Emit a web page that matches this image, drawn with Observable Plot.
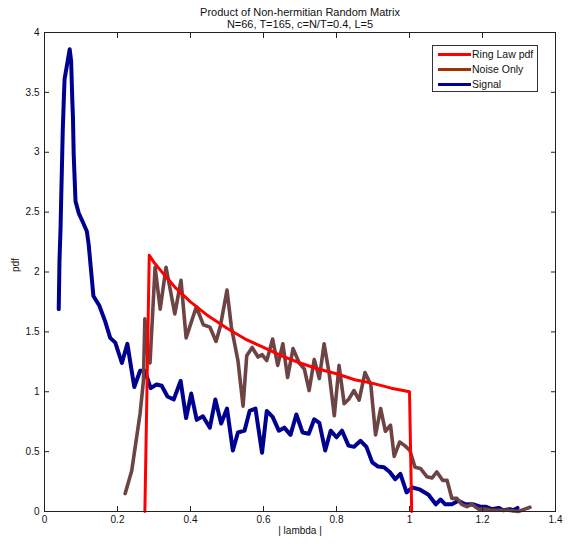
<!DOCTYPE html>
<html>
<head>
<meta charset="utf-8">
<script src="https://cdn.jsdelivr.net/npm/d3@7"></script>
<script src="https://cdn.jsdelivr.net/npm/@observablehq/plot@0.6"></script>
<style>
  html, body { margin: 0; padding: 0; background: #fff; }
  #wrap { position: relative; width: 574px; height: 544px; font-family: "Liberation Sans", Arial, sans-serif; }
  #legend { position: absolute; left: 432px; top: 45px; width: 106px; height: 47px; background: #fff; border: 1px solid #333; box-sizing: border-box; font-size: 10.5px; color: #111; }
  .row { position: absolute; left: 5px; height: 14px; display: flex; align-items: center; white-space: nowrap; }
  .sw { width: 33px; height: 3px; margin-right: 1px; flex: none; }
</style>
</head>
<body>
<div id="wrap">
  <div id="chart"></div>
  <div id="legend"></div>
</div>
<script>
const titleLines = ["Product of Non-hermitian Random Matrix", "N=66, T=165, c=N/T=0.4, L=5"];
const xLabel = "| lambda |";
const yLabel = "pdf";
const xTicks = [0, 0.2, 0.4, 0.6, 0.8, 1, 1.2, 1.4];
const yTicks = [0, 0.5, 1, 1.5, 2, 2.5, 3, 3.5, 4];
const seriesNames = ["Ring Law pdf", "Noise Only", "Signal"];
const lineColors = ["#ff0000", "#6e4343", "#000090"];
const legendColors = ["#ff0000", "#a03200", "#000090"];

// Ring law pdf (red)
const ringX = [0.275, 0.287, 0.30, 0.33, 0.36, 0.40, 0.45, 0.50, 0.55, 0.60, 0.65, 0.70, 0.75, 0.80, 0.85, 0.90, 0.95, 1.00, 1.006];
const ringY = [0, 2.14, 2.08, 1.97, 1.865, 1.75, 1.63, 1.53, 1.44, 1.37, 1.30, 1.24, 1.19, 1.15, 1.10, 1.07, 1.03, 1.00, 0];

// Noise only (brown)
const noiseX = [0.221, 0.239, 0.262, 0.271, 0.275, 0.283, 0.289, 0.303, 0.317, 0.333, 0.357, 0.374, 0.388, 0.416, 0.435, 0.453, 0.470, 0.482, 0.500, 0.512, 0.530, 0.544, 0.554, 0.569, 0.585, 0.596, 0.609, 0.625, 0.639, 0.653, 0.666, 0.681, 0.698, 0.712, 0.725, 0.739, 0.753, 0.766, 0.780, 0.794, 0.807, 0.821, 0.834, 0.848, 0.862, 0.878, 0.894, 0.907, 0.921, 0.934, 0.948, 0.958, 0.973, 0.987, 1.001, 1.015, 1.030, 1.048, 1.062, 1.075, 1.091, 1.103, 1.116, 1.130, 1.143, 1.157, 1.171, 1.189, 1.207, 1.225, 1.244, 1.270, 1.298, 1.316, 1.330];
const noiseY = [0.15, 0.34, 0.82, 1.09, 1.61, 1.30, 1.24, 2.04, 1.69, 2.04, 1.65, 1.93, 1.45, 1.71, 1.56, 1.54, 1.42, 1.55, 1.85, 1.54, 1.26, 0.88, 1.30, 1.37, 1.29, 1.31, 1.26, 1.44, 1.22, 1.40, 1.12, 1.36, 1.24, 1.19, 1.01, 1.27, 1.11, 1.40, 1.15, 0.80, 1.22, 0.90, 0.94, 1.01, 0.93, 1.16, 1.06, 0.64, 0.86, 0.67, 0.72, 0.46, 0.58, 0.55, 0.51, 0.37, 0.36, 0.29, 0.28, 0.33, 0.26, 0.26, 0.11, 0.11, 0.06, 0.04, 0.06, 0.02, 0.02, 0.01, 0.01, 0.01, 0.00, 0.02, 0.035];

// Signal (blue)
const signalX = [0.039, 0.041, 0.044, 0.046, 0.048, 0.050, 0.053, 0.055, 0.069, 0.073, 0.076, 0.078, 0.080, 0.085, 0.094, 0.103, 0.116, 0.121, 0.134, 0.150, 0.166, 0.180, 0.194, 0.212, 0.227, 0.246, 0.262, 0.275, 0.291, 0.307, 0.321, 0.337, 0.354, 0.373, 0.388, 0.402, 0.417, 0.434, 0.453, 0.468, 0.484, 0.500, 0.516, 0.530, 0.548, 0.562, 0.578, 0.596, 0.609, 0.625, 0.642, 0.657, 0.674, 0.690, 0.707, 0.724, 0.739, 0.753, 0.769, 0.784, 0.800, 0.815, 0.833, 0.848, 0.866, 0.882, 0.898, 0.914, 0.930, 0.946, 0.961, 0.975, 0.992, 1.008, 1.027, 1.052, 1.072, 1.085, 1.098, 1.116, 1.134, 1.153, 1.175, 1.194, 1.210, 1.225, 1.244, 1.257, 1.275, 1.284, 1.296];
const signalY = [1.69, 2.09, 2.37, 2.65, 2.91, 3.18, 3.45, 3.61, 3.86, 3.76, 3.45, 3.29, 2.98, 2.59, 2.49, 2.43, 2.34, 2.23, 1.80, 1.72, 1.59, 1.45, 1.41, 1.24, 1.40, 1.04, 1.175, 1.175, 1.03, 1.06, 1.05, 0.96, 0.935, 1.09, 0.78, 0.985, 0.765, 0.795, 0.70, 0.935, 0.735, 0.86, 0.51, 0.66, 0.675, 0.84, 0.86, 0.49, 0.84, 0.79, 0.675, 0.70, 0.64, 0.81, 0.66, 0.65, 0.77, 0.74, 0.51, 0.675, 0.62, 0.675, 0.55, 0.54, 0.59, 0.54, 0.41, 0.375, 0.37, 0.33, 0.27, 0.315, 0.16, 0.20, 0.185, 0.14, 0.06, 0.10, 0.06, 0.06, 0.09, 0.06, 0.06, 0.04, 0.04, 0.02, 0.03, 0.01, 0.02, 0.01, 0.03];

const zip = (xs, ys) => xs.map((x, i) => ({x, y: ys[i]}));
const ring = zip(ringX, ringY);
const noise = zip(noiseX, noiseY);
const signal = zip(signalX, signalY);

const fmt = d => String(d);

const chart = Plot.plot({
  width: 574,
  height: 544,
  marginLeft: 44,
  marginRight: 19,
  marginTop: 32,
  marginBottom: 33,
  x: {domain: [0, 1.4]},
  y: {domain: [0, 4]},
  style: {fontFamily: "'Liberation Sans', Arial, sans-serif", fontSize: "10px", color: "#111", background: "#fff"},
  marks: [
    Plot.line(signal, {x: "x", y: "y", stroke: lineColors[2], strokeWidth: 4, strokeLinejoin: "round", strokeLinecap: "round"}),
    Plot.line(noise, {x: "x", y: "y", stroke: lineColors[1], strokeWidth: 3.6, strokeLinejoin: "round", strokeLinecap: "round"}),
    Plot.line(ring, {x: "x", y: "y", stroke: lineColors[0], strokeWidth: 3, strokeLinejoin: "round"}),
    Plot.frame({stroke: "#222"}),
    Plot.axisX(xTicks, {anchor: "bottom", tickSize: 0, tickPadding: 4, tickFormat: fmt, label: null}),
    Plot.axisX(xTicks, {anchor: "bottom", tickSize: -5, text: null, label: null, stroke: "#222"}),
    Plot.axisX(xTicks, {anchor: "top", tickSize: -5, text: null, label: null, stroke: "#222"}),
    Plot.axisY(yTicks, {anchor: "left", tickSize: 0, tickPadding: 5, tickFormat: fmt, label: null}),
    Plot.axisY(yTicks, {anchor: "left", tickSize: -5, text: null, label: null, stroke: "#222"}),
    Plot.axisY(yTicks, {anchor: "right", tickSize: -5, text: null, label: null, stroke: "#222"}),
    Plot.text([titleLines[0]], {frameAnchor: "top", dy: -24, fontSize: 11, fill: "#111"}),
    Plot.text([titleLines[1]], {frameAnchor: "top", dy: -12, fontSize: 11, fill: "#111"}),
    Plot.text([xLabel], {frameAnchor: "bottom", dy: 22, fontSize: 10, fill: "#111"}),
    Plot.text([yLabel], {frameAnchor: "left", dx: -29, rotate: -90, fontSize: 10, fill: "#111"})
  ]
});
document.getElementById("chart").appendChild(chart);

const legend = document.getElementById("legend");
seriesNames.forEach((name, i) => {
  const row = document.createElement("div");
  row.className = "row";
  row.style.top = (1 + i * 15) + "px";
  const sw = document.createElement("div");
  sw.className = "sw";
  sw.style.background = legendColors[i];
  const t = document.createElement("span");
  t.textContent = name;
  row.appendChild(sw);
  row.appendChild(t);
  legend.appendChild(row);
});
</script>
</body>
</html>
